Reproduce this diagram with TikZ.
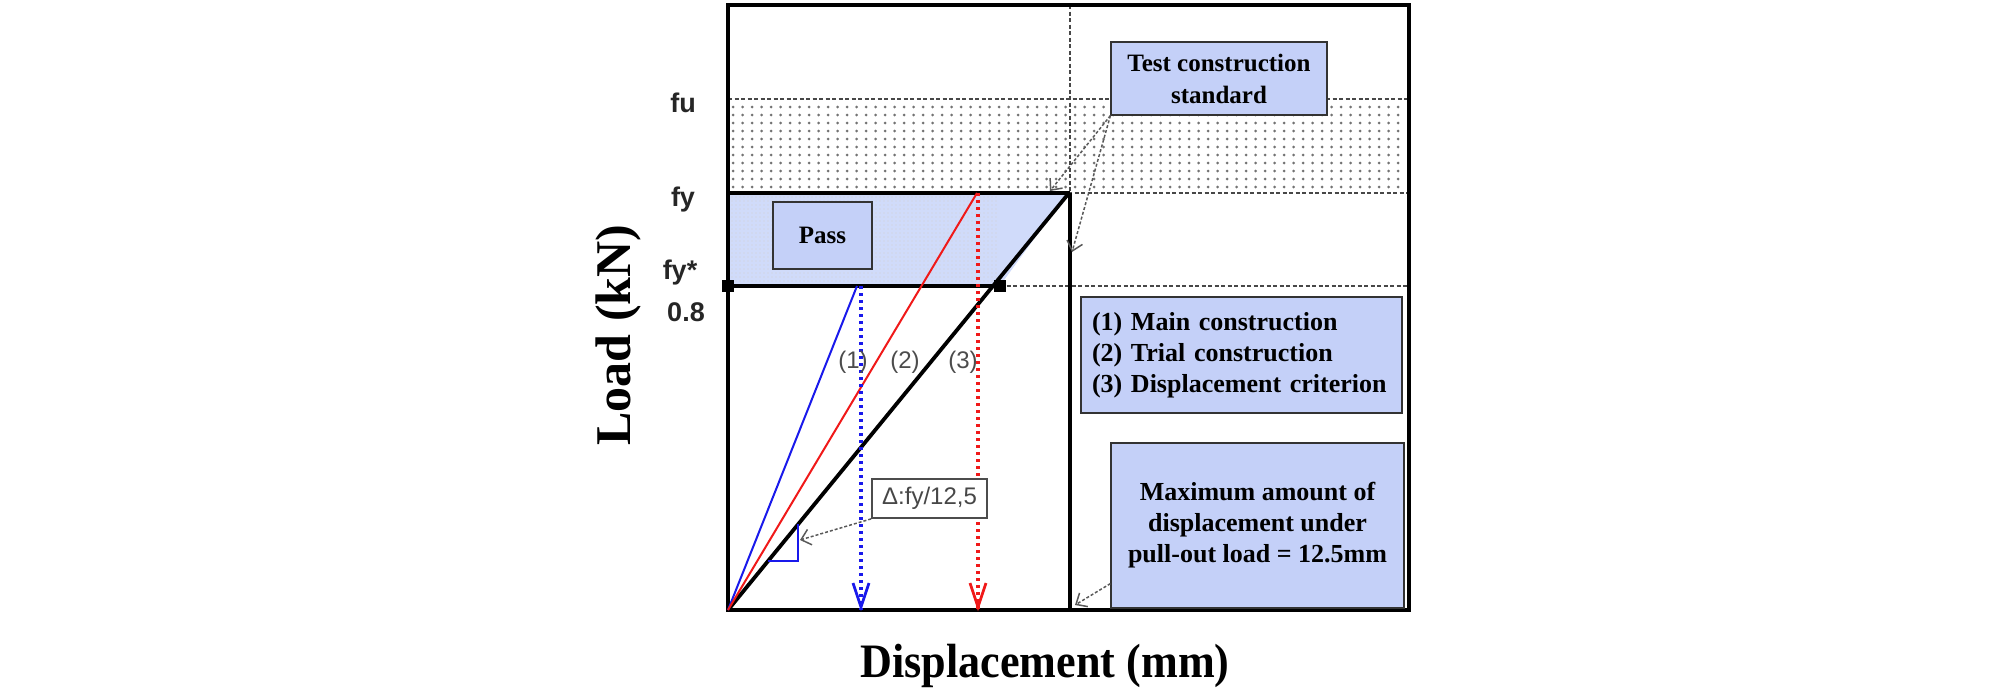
\documentclass[tikz,border=0pt]{standalone}
\usepackage{fontspec}
\setmainfont{Liberation Serif}
\newfontfamily\arialf{Liberation Sans}
\usetikzlibrary{arrows.meta}
\definecolor{boxblue}{RGB}{196,208,248}
\definecolor{passblue}{RGB}{208,219,250}
\definecolor{dblue}{RGB}{25,25,235}
\definecolor{dred}{RGB}{240,25,25}
\begin{document}
\begin{tikzpicture}[x=1pt,y=-1pt,
  gline/.style={draw=black!72,line width=2.8pt,dash pattern=on 4pt off 2.5pt},
  tbox/.style={draw=black!80,line width=1.2pt,fill=boxblue,inner sep=0pt,font=\bfseries\fontsize{25}{32}\selectfont,align=center},
  ann/.style={draw=black!65,line width=1.5pt,densely dashed,-{Straight Barb[length=9pt,width=16pt,line width=1.5pt]}},
  numlbl/.style={font=\arialf\fontsize{24}{24}\selectfont,text=black!70,inner sep=0pt},
  ylbl/.style={font=\arialf\bfseries\fontsize{27}{27}\selectfont,text=black!85,inner sep=0pt},
  axlbl/.style={font=\bfseries\fontsize{50}{50}\selectfont,inner sep=0pt}]
\path[use as bounding box] (0,0) rectangle (2008,694);
% pass region
\fill[passblue] (728,193) -- (1068,193) -- (1000,286) -- (728,286) -- cycle;
\foreach \r in {0,...,22}{
  \foreach \c in {0,...,66}{
    \fill[black!18] ({732+4*\c},{197+4*\r}) circle (0.7pt);
  }
}
\fill[white] (1000,286) -- (1068,193) -- (1070,193) -- (1070,290) -- cycle;
% dotted band between fu and fy
\foreach \r in {0,...,10}{
  \foreach \c in {0,...,70}{
    \fill[black!55] ({733+9.5*\c},{107+8*\r}) circle (1.5pt);
  }
}
% dashed guide lines
\draw[gline] (728,99) -- (1409,99);
\draw[gline] (1068,193) -- (1409,193);
\draw[gline] (1000,286) -- (1409,286);
\draw[gline] (1070,5) -- (1070,193);
% frame
\draw[line width=4pt] (728,5) rectangle (1409,610);
\draw[line width=3.5pt] (1070,193) -- (1070,610);
% fy and fy* thick lines
\draw[line width=4.5pt] (728,193) -- (1070,193);
\draw[line width=4.5pt] (728,286) -- (1000,286);
\fill (722,280) rectangle (734,292);
\fill (994,280) rectangle (1006,292);
% curves
\coordinate (O) at (728,610);
\coordinate (p1) at (857,286);
\coordinate (p2) at (977,193);
\coordinate (p3) at (1069,193);
\draw[line width=3.8pt] (O) -- (p3);
\draw[dblue,line width=2pt] (O) -- (p1);
\draw[dred,line width=2pt] (O) -- (p2);
% dotted drop lines
\draw[dblue,line width=3.2pt,dash pattern=on 2.5pt off 4.5pt] (861,286) -- (861,610);
\draw[dblue,line width=2.8pt] (853,583) -- (861,607) -- (869,583);
\draw[dred,line width=3.2pt,dash pattern=on 2.5pt off 4.5pt] (978,193) -- (978,610);
\draw[dred,line width=2.8pt] (970,583) -- (978,607) -- (986,583);
% right angle mark
\draw[dblue,line width=2.8pt] (768,561) -- (798,561) -- (798,524);
% curve labels
\node[numlbl] (n1) at (853,362) {(1)};
\node[numlbl] (n2) at (905,362) {(2)};
\node[numlbl] (n3) at (963,362) {(3)};
% delta box
\node[draw=black!70,line width=1.8pt,fill=white,minimum width=115pt,minimum height=39pt,inner sep=0pt,
      font=\arialf\fontsize{24}{24}\selectfont,text=black!72] (dbox) at (929.5,498.5) {Δ:fy/12,5};
\coordinate (rang) at (800,540);
\draw[ann] (dbox.south west) -- (rang);
% Pass box
\node[tbox,minimum width=99pt,minimum height=67pt] (pass) at (822.5,235.5) {Pass};
% Test construction standard
\node[tbox,minimum width=216pt,minimum height=73pt] (test) at (1219,78.5) {Test construction\\standard};
\coordinate (ta) at (1050,191);
\coordinate (tb) at (1072,252);
\draw[ann] (test.south west) -- (ta);
\draw[ann] (test.south west) -- (tb);
% legend
\node[tbox,minimum width=321pt,minimum height=116pt,text width=299pt,inner xsep=11pt,align=left,
      font=\bfseries\fontsize{26}{31}\selectfont] (legend) at (1241.5,355) {(1) Main construction\\(2) Trial construction\\(3) Displacement criterion};
% max box
\node[tbox,minimum width=293pt,minimum height=165pt,font=\bfseries\fontsize{26}{31}\selectfont] (maxb) at (1257.5,525.5)
  {Maximum amount of\\displacement under\\pull-out load = 12.5mm};
\coordinate (mb) at (1075,605);
\draw[ann] ([yshift=25pt]maxb.south west) -- (mb);
% y tick labels
\node[ylbl] (fu) at (683,103) {fu};
\node[ylbl] (fy) at (683,200) {fy};
\node[ylbl] (fys) at (680,273) {fy*};
\node[ylbl] (z8) at (686,312) {0.8};
% axis labels
\node[axlbl,rotate=90] (ylab) at (618,335) {Load (kN)};
\node[axlbl,font=\bfseries\fontsize{48}{48}\selectfont,xscale=0.92] (xlab) at (1045,666) {Displacement (mm)};
\end{tikzpicture}
\end{document}
